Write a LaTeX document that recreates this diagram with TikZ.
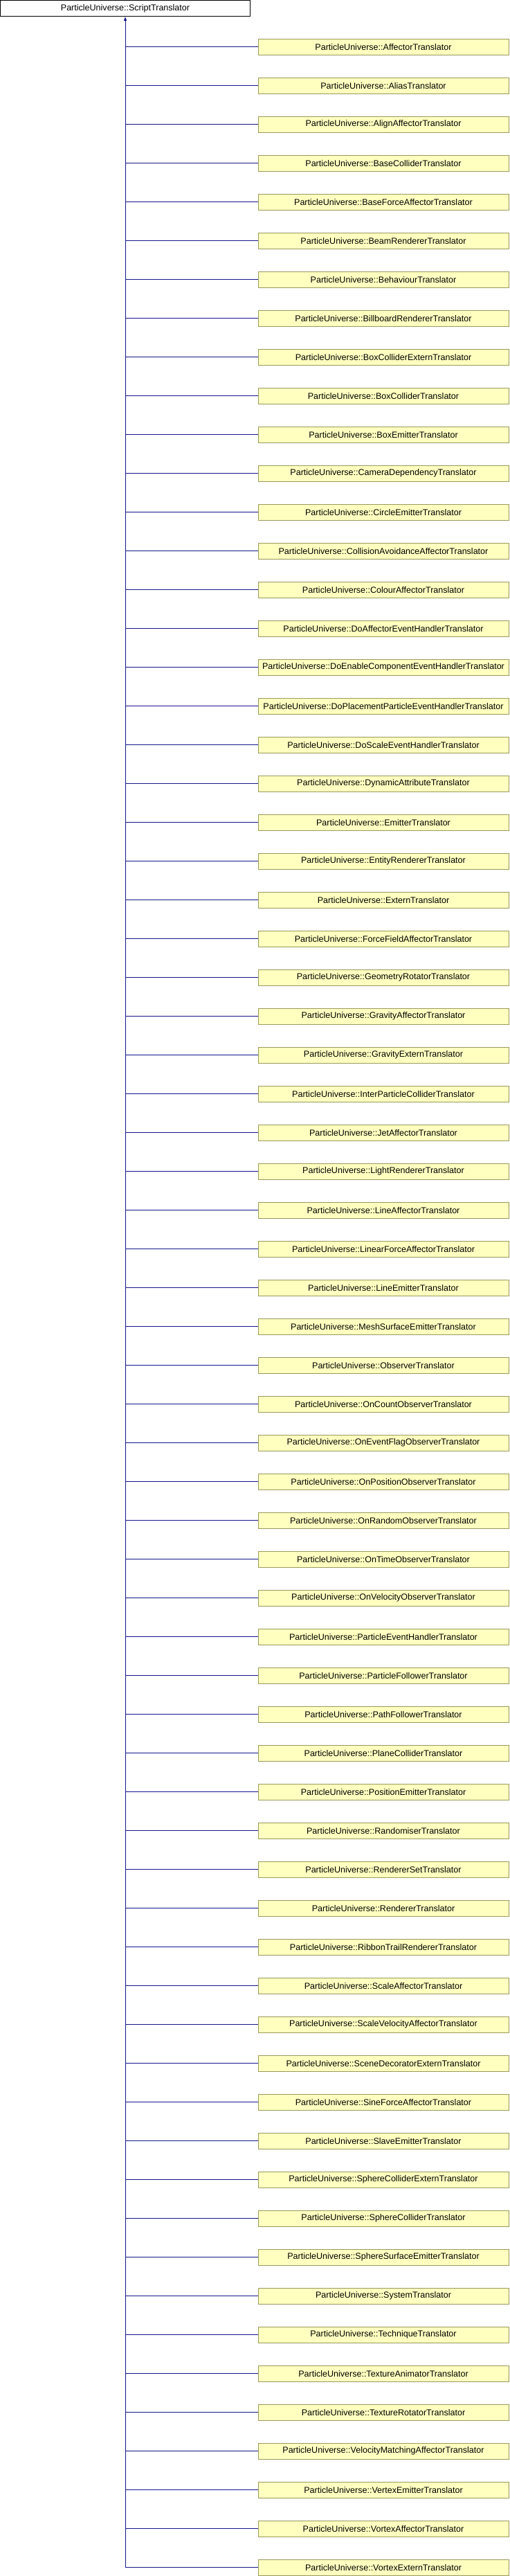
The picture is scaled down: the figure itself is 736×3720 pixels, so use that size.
\documentclass[tikz,border=0pt]{standalone}
\usepackage{fontspec}
\setmainfont{Liberation Sans}
\usetikzlibrary{arrows.meta}
\definecolor{classfill}{HTML}{FFFFC0}
\definecolor{classline}{HTML}{99995C}
\definecolor{edgeblue}{HTML}{16168C}
\tikzset{
  baseclass/.style={draw=black, fill=white, line width=0.75pt, inner sep=0pt,
    minimum width=271pt, minimum height=17.25pt, font=\fontsize{9.4}{11}\selectfont},
  subclass/.style={draw=classline, fill=classfill, line width=0.75pt, inner sep=0pt,
    minimum width=271.5pt, minimum height=17.25pt, font=\fontsize{9.4}{11}\selectfont},
  inherit/.style={draw=edgeblue, line width=0.75pt}
}
\begin{document}
\begin{tikzpicture}[x=0.75pt, y=-0.75pt]
\useasboundingbox (0,0) rectangle (736,3720);
\node[baseclass] (script) at (181,11.8) {ParticleUniverse::ScriptTranslator};
\foreach \cname [count=\i from 0] in {AffectorTranslator, AliasTranslator, AlignAffectorTranslator,
  BaseColliderTranslator, BaseForceAffectorTranslator, BeamRendererTranslator, BehaviourTranslator,
  BillboardRendererTranslator, BoxColliderExternTranslator, BoxColliderTranslator, BoxEmitterTranslator,
  CameraDependencyTranslator, CircleEmitterTranslator, CollisionAvoidanceAffectorTranslator,
  ColourAffectorTranslator, DoAffectorEventHandlerTranslator, DoEnableComponentEventHandlerTranslator,
  DoPlacementParticleEventHandlerTranslator, DoScaleEventHandlerTranslator, DynamicAttributeTranslator,
  EmitterTranslator, EntityRendererTranslator, ExternTranslator, ForceFieldAffectorTranslator,
  GeometryRotatorTranslator, GravityAffectorTranslator, GravityExternTranslator,
  InterParticleColliderTranslator, JetAffectorTranslator, LightRendererTranslator, LineAffectorTranslator,
  LinearForceAffectorTranslator, LineEmitterTranslator, MeshSurfaceEmitterTranslator, ObserverTranslator,
  OnCountObserverTranslator, OnEventFlagObserverTranslator, OnPositionObserverTranslator,
  OnRandomObserverTranslator, OnTimeObserverTranslator, OnVelocityObserverTranslator,
  ParticleEventHandlerTranslator, ParticleFollowerTranslator, PathFollowerTranslator,
  PlaneColliderTranslator, PositionEmitterTranslator, RandomiserTranslator, RendererSetTranslator,
  RendererTranslator, RibbonTrailRendererTranslator, ScaleAffectorTranslator,
  ScaleVelocityAffectorTranslator, SceneDecoratorExternTranslator, SineForceAffectorTranslator,
  SlaveEmitterTranslator, SphereColliderExternTranslator, SphereColliderTranslator,
  SphereSurfaceEmitterTranslator, SystemTranslator, TechniqueTranslator, TextureAnimatorTranslator,
  TextureRotatorTranslator, VelocityMatchingAffectorTranslator, VertexEmitterTranslator,
  VortexAffectorTranslator, VortexExternTranslator} {
  \node[subclass] (c\i) at (554,67.7+56*\i) {ParticleUniverse::\cname};
  \draw[inherit] (c\i.west) -- (c\i.west -| script.south);
}
% trunk up to the base class
\coordinate (trunkend) at (c65.west -| script.south);
\draw[inherit, -{Latex[length=4.5pt, width=3.5pt]}] (trunkend) -- (script.south);
\end{tikzpicture}
\end{document}
